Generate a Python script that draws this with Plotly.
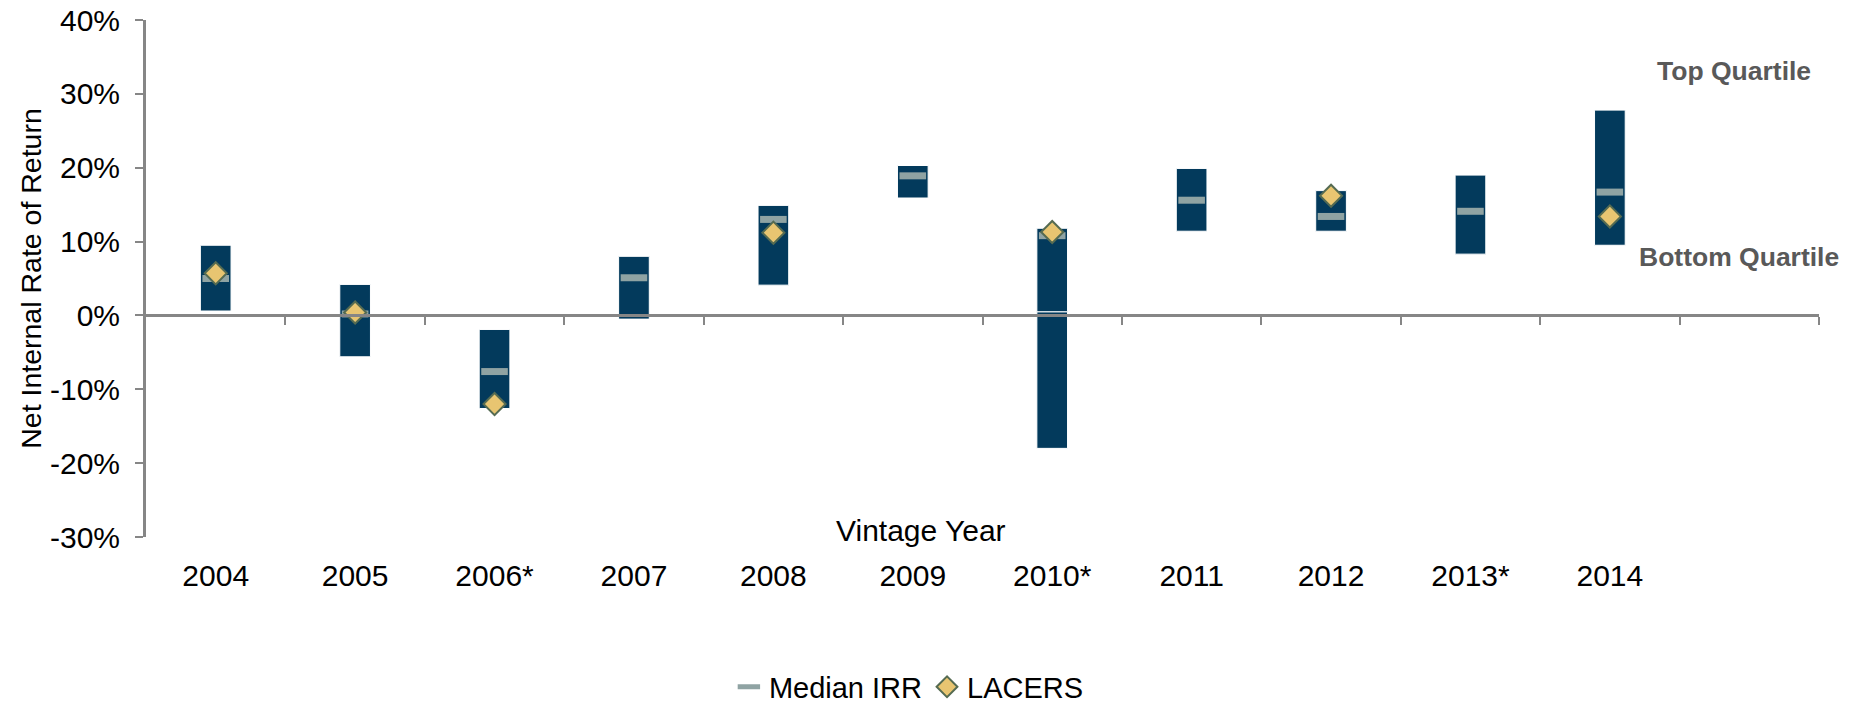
import plotly.graph_objects as go

years = ["2004", "2005", "2006*", "2007", "2008", "2009", "2010*", "2011", "2012", "2013*", "2014"]
q_low = [0.6, -5.6, -12.6, -0.5, 4.1, 15.9, -18.0, 11.4, 11.4, 8.3, 9.5]
q_high = [9.5, 4.2, -1.9, 8.0, 14.9, 20.3, 11.8, 19.9, 16.9, 19.0, 27.8]
q_split = [None, None, None, None, None, None, 0.5, None, None, None, None]
median_irr = [5.0, 0.2, -7.6, 5.1, 13.0, 18.9, 10.8, 15.6, 13.4, 14.1, 16.7]
lacers = [5.7, 0.4, -12.0, None, 11.2, None, 11.3, None, 16.2, None, 13.4]
y_ticks = [-30, -20, -10, 0, 10, 20, 30, 40]
y_ticktext = ["-30%", "-20%", "-10%", "0%", "10%", "20%", "30%", "40%"]

BAR = "#033A5C"
MED = "#8FA3A3"
DIA = "#E8C571"
DIA_EDGE = "#556B52"
AXIS = "#868686"
FONT = "Arial, 'Liberation Sans', sans-serif"
FS = 30

# lower segment ends at split where defined, else at the top
seg1_top = [s if s is not None else h for s, h in zip(q_split, q_high)]
seg2_x = [y for y, s in zip(years, q_split) if s is not None]
seg2_base = [s for s in q_split if s is not None]
seg2_len = [h - s for h, s in zip(q_high, q_split) if s is not None]

fig = go.Figure()
fig.add_trace(go.Bar(
    x=years, base=q_low, y=[t - l for t, l in zip(seg1_top, q_low)],
    width=0.22, marker=dict(color=BAR, line=dict(color="white", width=1)),
    showlegend=False, hoverinfo="skip"))
fig.add_trace(go.Bar(
    x=seg2_x, base=seg2_base, y=seg2_len,
    width=0.22, marker=dict(color=BAR, line=dict(color="white", width=1)),
    showlegend=False, hoverinfo="skip"))
fig.add_trace(go.Scatter(
    x=years, y=median_irr, mode="markers", name="Median IRR",
    marker=dict(symbol="line-ew", size=19, color=MED,
                line=dict(color=MED, width=7))))
fig.add_trace(go.Scatter(
    x=years, y=lacers, mode="markers", name="LACERS",
    marker=dict(symbol="diamond", size=17, color=DIA,
                line=dict(color=DIA_EDGE, width=2))))
# helper trace for the zero-line axis with boundary tick marks
fig.add_trace(go.Scatter(x=[], y=[], xaxis="x2", showlegend=False, hoverinfo="skip"))

fig.update_layout(
    width=1858, height=705,
    margin=dict(l=146, r=39, t=20, b=168, autoexpand=False),
    paper_bgcolor="white", plot_bgcolor="white",
    barmode="overlay",
    font=dict(family=FONT, size=FS, color="black"),
    xaxis=dict(
        type="category", categoryorder="array", categoryarray=years,
        range=[-0.5, 11.5], showline=False, showgrid=False, zeroline=False,
        ticks="", ticklabelstandoff=18, tickfont=dict(size=FS), automargin=False),
    xaxis2=dict(
        overlaying="x", anchor="free", position=3 / 7, range=[-0.5, 11.5],
        showline=True, linecolor=AXIS, linewidth=3, showgrid=False, zeroline=False,
        ticks="outside", tickvals=[i + 0.5 for i in range(12)], ticklen=8,
        tickwidth=2, tickcolor=AXIS, showticklabels=False, automargin=False),
    yaxis=dict(
        range=[-30, 40], tickvals=y_ticks, ticktext=y_ticktext,
        showline=True, linecolor=AXIS, linewidth=3, showgrid=False, zeroline=False,
        ticks="outside", ticklen=8, tickwidth=2, tickcolor=AXIS,
        ticklabelstandoff=9, tickfont=dict(size=FS), automargin=False,
        title=dict(text="Net Internal Rate of Return", font=dict(size=28.5), standoff=0)),
    legend=dict(orientation="h", x=0.456, xanchor="center", y=-0.29, yanchor="middle",
                font=dict(size=29), itemwidth=30, tracegroupgap=0),
    annotations=[
        dict(text="Vintage Year", xref="paper", yref="paper", x=0.463, y=0.0135,
             showarrow=False, font=dict(size=FS), xanchor="center", yanchor="middle"),
        dict(text="<b>Top Quartile</b>", xref="paper", yref="paper", x=0.949, y=0.901,
             showarrow=False, font=dict(size=26.5, color="#595959"),
             xanchor="center", yanchor="middle"),
        dict(text="<b>Bottom Quartile</b>", xref="paper", yref="paper", x=0.952, y=0.541,
             showarrow=False, font=dict(size=26.5, color="#595959"),
             xanchor="center", yanchor="middle"),
    ],
)

fig.write_html(
    "out.html",
    config={"displayModeBar": False},
    post_script="document.body.style.margin='0';document.body.style.overflow='hidden';",
)
